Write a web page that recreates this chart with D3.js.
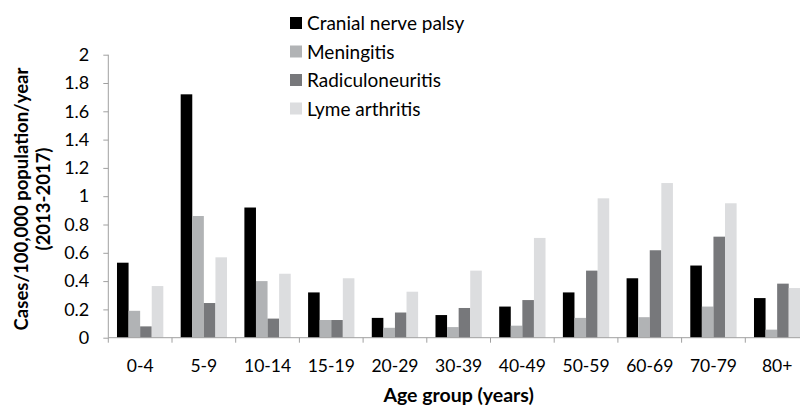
<!DOCTYPE html>
<html>
<head>
<meta charset="utf-8">
<script src="https://cdn.jsdelivr.net/npm/d3@7"></script>
<style>
  body { margin: 0; background: #fff; }
  text { font-family: Lato, "Open Sans", sans-serif; fill: #000; }
</style>
</head>
<body>
<div id="chart"></div>
<script>
// data

var ageGroups = ["0-4", "5-9", "10-14", "15-19", "20-29", "30-39", "40-49", "50-59", "60-69", "70-79", "80+"];
var seriesNames = ["Cranial nerve palsy", "Meningitis", "Radiculoneuritis", "Lyme arthritis"];
var cranialNerve = [0.53, 1.72, 0.92, 0.32, 0.14, 0.16, 0.22, 0.32, 0.42, 0.51, 0.28];
var meningitis = [0.19, 0.86, 0.40, 0.125, 0.07, 0.075, 0.085, 0.14, 0.145, 0.22, 0.057];
var radiculo = [0.08, 0.245, 0.135, 0.125, 0.178, 0.21, 0.266, 0.474, 0.618, 0.714, 0.382];
var lymeArthritis = [0.365, 0.568, 0.452, 0.42, 0.325, 0.474, 0.705, 0.985, 1.093, 0.95, 0.351];
var yTicks = [0, 0.2, 0.4, 0.6, 0.8, 1, 1.2, 1.4, 1.6, 1.8, 2];

var colors = ["#000000", "#b1b3b5", "#77787b", "#dcdddf"];
var allSeries = [cranialNerve, meningitis, radiculo, lymeArthritis];

var svgWidth = 800;
var svgHeight = 407;

// plot area (the right side runs a little off the picture, as in the source)
var plotLeft = 108.3, plotRight = 809, plotTop = 54.7, plotBottom = 337.7;

var svg = d3.select("#chart")
  .append("svg")
  .attr("width", svgWidth)
  .attr("height", svgHeight);

var xScale = d3.scaleBand()
  .domain(ageGroups)
  .range([plotLeft, plotRight])
  .padding(0);

// gap width of 150% -> 0.75 step on each side
var xInner = d3.scaleBand()
  .domain(d3.range(seriesNames.length))
  .range([0, xScale.bandwidth()])
  .paddingInner(0)
  .paddingOuter(0.75);

var yScale = d3.scaleLinear()
  .domain([0, 2])
  .range([plotBottom, plotTop]);

// bars
allSeries.forEach(function(values, s) {
  svg.append("g")
    .selectAll("rect")
    .data(values)
    .enter()
    .append("rect")
    .attr("x", (d, i) => xScale(ageGroups[i]) + xInner(s))
    .attr("width", xInner.bandwidth())
    .attr("y", d => yScale(d))
    .attr("height", d => plotBottom - yScale(d))
    .attr("fill", colors[s]);
});

// y axis
var leftAxis = d3.axisLeft(yScale)
  .tickValues(yTicks)
  .tickSize(5)
  .tickPadding(14)
  .tickFormat(d => d);

var yAxis = svg.append("g")
  .attr("transform", `translate(${plotLeft}, 0)`)
  .call(leftAxis);

yAxis.select(".domain").attr("stroke", "#a0a0a0").attr("d", `M0,${plotTop}V${plotBottom}`);
yAxis.selectAll(".tick line").attr("stroke", "#a0a0a0");
yAxis.selectAll(".tick text")
  .style("font-size", "18px")
  .style("font-family", "Lato, sans-serif")
  .attr("fill", "#000");

// x axis: line along the bottom, ticks between the groups
svg.append("line")
  .attr("x1", plotLeft).attr("x2", plotRight)
  .attr("y1", plotBottom).attr("y2", plotBottom)
  .attr("stroke", "#a0a0a0");

var boundaries = ageGroups.map(d => xScale(d)).concat([plotRight]);
svg.append("g")
  .selectAll("line")
  .data(boundaries)
  .enter()
  .append("line")
  .attr("x1", d => d).attr("x2", d => d)
  .attr("y1", plotBottom).attr("y2", plotBottom + 5)
  .attr("stroke", "#a0a0a0");

svg.append("g")
  .selectAll("text")
  .data(ageGroups)
  .enter()
  .append("text")
  .attr("x", d => xScale(d) + xScale.bandwidth() / 2)
  .attr("y", 372)
  .attr("text-anchor", "middle")
  .style("font-size", "17.5px")
  .text(d => d);

// axis titles
svg.append("text")
  .attr("x", (plotLeft + plotRight) / 2)
  .attr("y", 402)
  .attr("text-anchor", "middle")
  .style("font-size", "19.5px")
  .style("font-weight", "bold")
  .text("Age group (years)");

var yTitle = svg.append("g")
  .attr("transform", "translate(0, 199) rotate(-90)");

yTitle.append("text")
  .attr("x", 0)
  .attr("y", 28)
  .attr("text-anchor", "middle")
  .style("font-size", "18.5px")
  .style("font-weight", "bold")
  .text("Cases/100,000 population/year");

yTitle.append("text")
  .attr("x", 0)
  .attr("y", 50)
  .attr("text-anchor", "middle")
  .style("font-size", "18.5px")
  .style("font-weight", "bold")
  .text("(2013-2017)");

// legend
var legend = svg.append("g")
  .attr("transform", "translate(290, 23)");

var legendRows = legend.selectAll("g")
  .data(seriesNames)
  .enter()
  .append("g")
  .attr("transform", (d, i) => `translate(0, ${i * 28.5})`);

legendRows.append("rect")
  .attr("x", 0)
  .attr("y", -6)
  .attr("width", 12)
  .attr("height", 12)
  .attr("fill", (d, i) => colors[i]);

legendRows.append("text")
  .attr("x", 17)
  .attr("y", 7)
  .style("font-size", "19px")
  .text(d => d);
</script>
</body>
</html>
